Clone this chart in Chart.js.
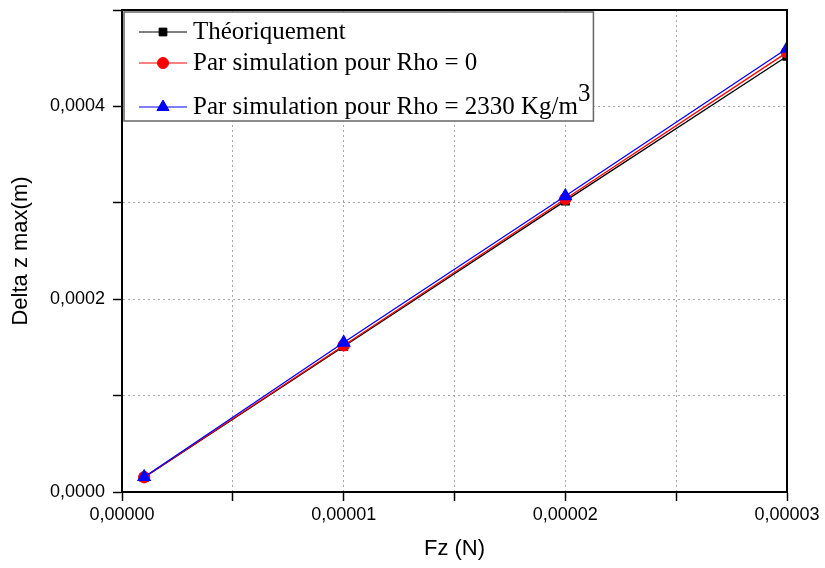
<!DOCTYPE html>
<html>
<head>
<meta charset="utf-8">
<script src="https://cdn.jsdelivr.net/npm/chart.js@4.4.1/dist/chart.umd.min.js"></script>
<style>
  html, body { margin:0; padding:0; background:#fff; }
  canvas { display:block; }
</style>
</head>
<body>
<canvas id="c" width="825" height="568"></canvas>
<script>
// --- data ---
const fz        = [0.000001, 0.00001, 0.00002, 0.00003];
const theorique = [0.0000151, 0.000151, 0.000302, 0.000452];
const rho0      = [0.0000153, 0.000152, 0.000304, 0.000456];
const rho2330   = [0.0000156, 0.000155, 0.000307, 0.000460];
const seriesLabels = ['Théoriquement', 'Par simulation pour Rho = 0', 'Par simulation pour Rho = 2330 Kg/m³'];
const xTitle = 'Fz (N)';
const yTitle = 'Delta z max(m)';

const pts = ys => fz.map((x, i) => ({ x, y: ys[i] }));
const fmt = (v, d) => v.toFixed(d).replace('.', ',');

// frame around plot + legend box inside top-left corner
const framePlugin = {
  id: 'frame',
  afterDraw(chart) {
    const { ctx, chartArea: a } = chart;
    ctx.save();
    ctx.strokeStyle = '#000';
    ctx.lineWidth = 2;
    ctx.strokeRect(a.left, a.top, a.right - a.left, a.bottom - a.top);

    // legend
    const font = '25px "Times New Roman", "Liberation Serif", serif';
    ctx.font = font;
    const rows = [a.top + 22, a.top + 53, a.top + 97];
    const x0 = a.left + 17, x1 = a.left + 65, tx = a.left + 71;
    let maxW = 0;
    chart.data.datasets.forEach(ds => {
      let t = ds.label, w;
      if (t.endsWith('³')) w = ctx.measureText(t.slice(0, -1)).width + ctx.measureText('3').width;
      else w = ctx.measureText(t).width;
      maxW = Math.max(maxW, w);
    });
    const bx = a.left + 2, by = a.top + 2;
    const bw = tx + maxW + 3 - bx, bh = rows[2] + 14 - by;
    ctx.fillStyle = '#fff';
    ctx.fillRect(bx, by, bw, bh);
    ctx.strokeStyle = '#666';
    ctx.lineWidth = 1.5;
    ctx.strokeRect(bx, by, bw, bh);

    chart.data.datasets.forEach((ds, i) => {
      const y = rows[i];
      ctx.strokeStyle = ds.borderColor;
      ctx.lineWidth = 1;
      ctx.beginPath(); ctx.moveTo(x0, y); ctx.lineTo(x1, y); ctx.stroke();
      ctx.fillStyle = ds.pointBackgroundColor;
      ctx.strokeStyle = ds.pointBorderColor;
      Chart.helpers.drawPoint(ctx, {
        pointStyle: ds.pointStyle, radius: ds.pointRadius, rotation: 0, borderWidth: 1
      }, (x0 + x1) / 2, y);

      ctx.fillStyle = '#000';
      ctx.font = font;
      ctx.textBaseline = 'middle';
      ctx.textAlign = 'left';
      let t = ds.label;
      if (t.endsWith('³')) {
        const base = t.slice(0, -1);
        ctx.fillText(base, tx, y);
        ctx.fillText('3', tx + ctx.measureText(base).width, y - 13);
      } else {
        ctx.fillText(t, tx, y);
      }
    });
    ctx.restore();
  }
};

const tickFont = { family: 'Arial, "Liberation Sans", sans-serif', size: 18 };
const titleFont = { family: 'Arial, "Liberation Sans", sans-serif', size: 22 };

new Chart(document.getElementById('c'), {
  type: 'line',
  data: {
    datasets: [
      { label: seriesLabels[0], data: pts(theorique), borderColor: '#000', backgroundColor: '#000',
        pointBackgroundColor: '#000', pointBorderColor: '#000', pointStyle: 'rect', pointRadius: 5.5, borderWidth: 1.3, order: 2 },
      { label: seriesLabels[1], data: pts(rho0), borderColor: '#ff0000', backgroundColor: '#ff0000',
        pointBackgroundColor: '#ff0000', pointBorderColor: '#ff0000', pointStyle: 'circle', pointRadius: 5.5, borderWidth: 1.3, order: 1 },
      { label: seriesLabels[2], data: pts(rho2330), borderColor: '#0000ff', backgroundColor: '#0000ff',
        pointBackgroundColor: '#0000ff', pointBorderColor: '#0000ff', pointStyle: 'triangle', pointRadius: 7, borderWidth: 1.3, order: 0 }
    ]
  },
  options: {
    responsive: false,
    animation: false,
    devicePixelRatio: 1,
    layout: { padding: { top: 10, right: 38, left: 0, bottom: 0 } },
    plugins: { legend: { display: false }, tooltip: { enabled: false } },
    scales: {
      x: {
        type: 'linear', min: 0, max: 0.00003,
        afterFit: s => { s.height = 76; },
        ticks: { stepSize: 0.000005, color: '#000', font: tickFont, padding: 3, maxRotation: 0,
          callback: (v, i) => i % 2 === 0 ? fmt(v, 5) : '' },
        grid: { color: '#a8a8a8', lineWidth: 1, tickColor: '#000', tickWidth: 1.5, tickLength: 9, tickBorderDash: [] },
        border: { display: true, color: '#000', width: 2, dash: [2, 3] },
        title: { display: true, text: xTitle, color: '#000', font: titleFont, padding: { bottom: 6 } }
      },
      y: {
        type: 'linear', min: 0, max: 0.0005,
        afterFit: s => { s.width = 122; s.paddingTop = 0; s.paddingBottom = 0; },
        ticks: { stepSize: 0.0001, color: '#000', font: tickFont, padding: 8,
          callback: (v, i) => i % 2 === 0 ? fmt(v, 4) : '' },
        grid: { color: '#a8a8a8', lineWidth: 1, tickColor: '#000', tickWidth: 1.5, tickLength: 9, tickBorderDash: [] },
        border: { display: true, color: '#000', width: 2, dash: [2, 3] },
        title: { display: true, text: yTitle, color: '#000', font: titleFont, padding: { top: 8 } }
      }
    }
  },
  plugins: [framePlugin]
});
</script>
</body>
</html>
